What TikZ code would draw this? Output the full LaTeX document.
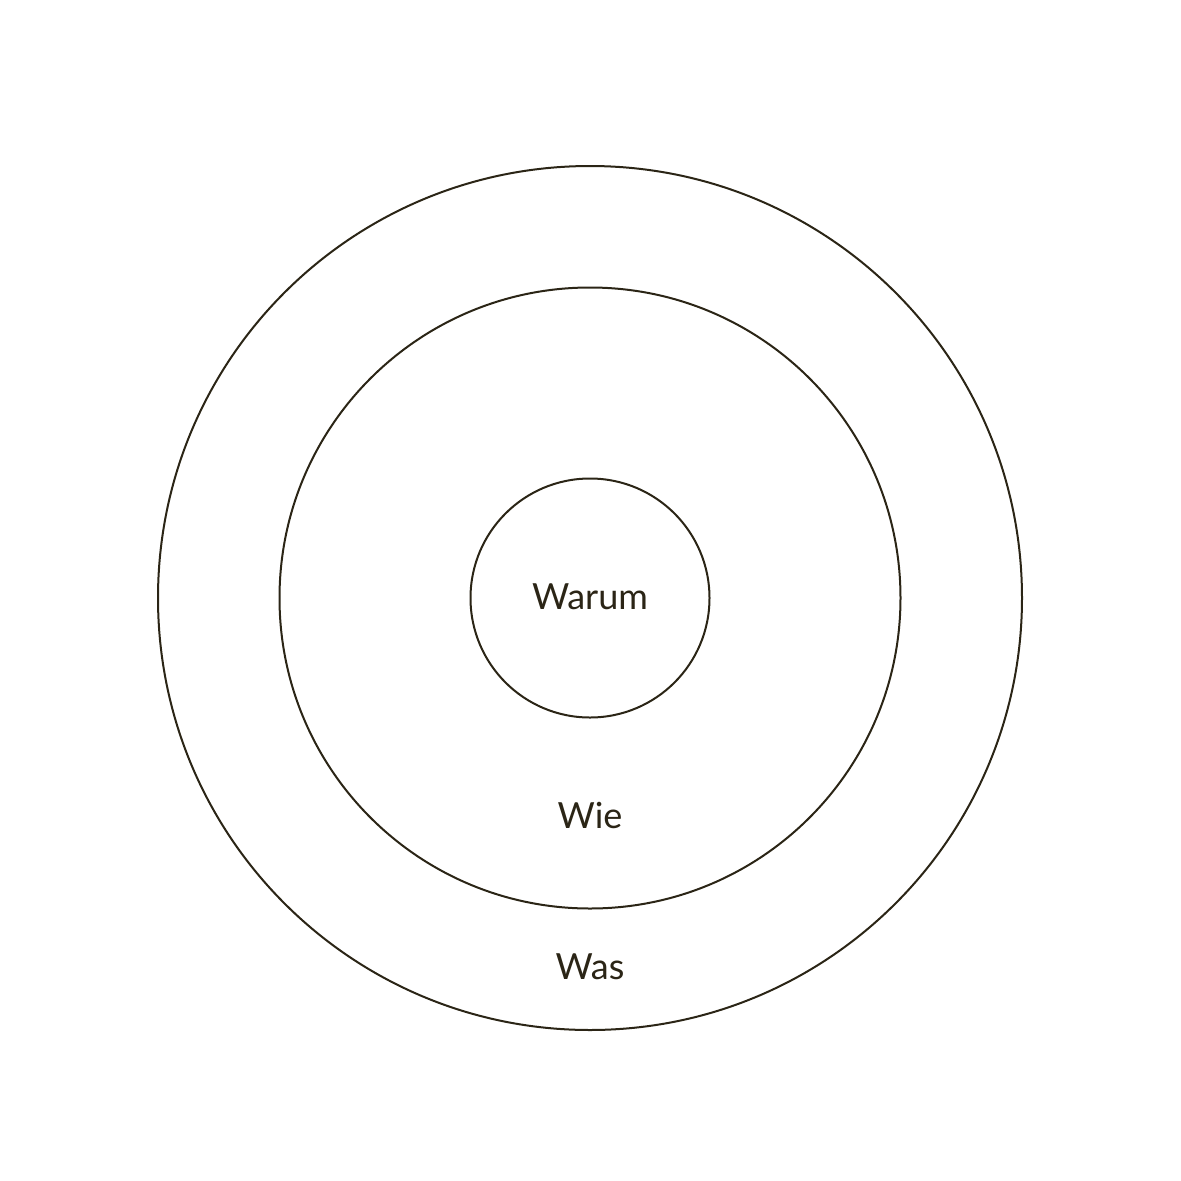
\documentclass[tikz,border=0pt]{standalone}
\usepackage{fontspec}
\setmainfont{Lato}
\definecolor{ink}{HTML}{2B2516}
\begin{document}
\begin{tikzpicture}[x=1pt,y=-1pt, line join=round, line cap=round]
            \def\ra{119.5} \def\rb{310.5} \def\rc{432}
            \useasboundingbox (0,0) rectangle (1181,1181);
            \coordinate (O) at (590,598);
            \draw[ink,line width=2pt] (O) circle (\rc);
            \draw[ink,line width=2pt] (O) circle (\rb);
            \draw[ink,line width=2pt] (O) circle (\ra);
            \node[ink,font=\fontsize{36}{40}\selectfont] (warum) at (590,597) {Warum};
            \node[ink,font=\fontsize{36}{40}\selectfont] (wie) at (590,815) {Wie};
            \node[ink,font=\fontsize{36}{40}\selectfont] (was) at (590,967) {Was};
        \end{tikzpicture}
\end{document}
